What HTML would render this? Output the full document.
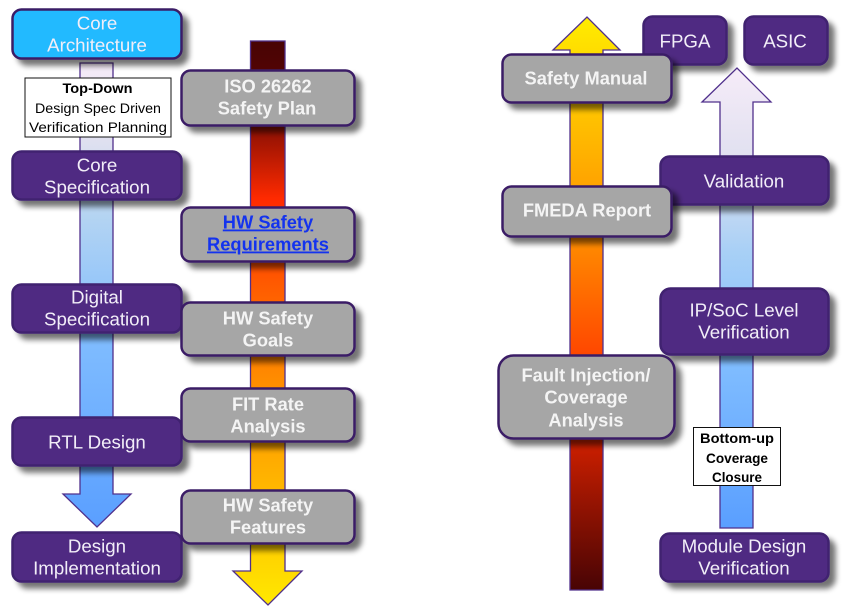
<!DOCTYPE html>
<html>
<head>
<meta charset="utf-8">
<style>
html,body{margin:0;padding:0;background:#fff;width:845px;height:607px;overflow:hidden}
svg{display:block}
text{font-family:"Liberation Sans",sans-serif;text-anchor:middle}
.p{fill:#4f2a82;stroke:#3f2170;stroke-width:2.500}
.c{fill:#21baff;stroke:#3b1f66;stroke-width:2.500}
.g{fill:#a6a6a6;stroke:#3b1f66;stroke-width:2.500}
.tp{font-size:18.700px;fill:#f2eef8;transform:translateY(-0.5px)}
.tg{font-size:18.300px;font-weight:bold;fill:#f4f4f4;transform:translateY(-0.5px)}
.tl{font-size:18.300px;font-weight:bold;fill:#1433ee;text-decoration:underline;transform:translateY(-0.5px)}
.lb{font-size:14px;fill:#000}
.a{stroke:#50308c;stroke-width:1.300}
</style>
</head>
<body>
<svg width="845" height="607" viewBox="0 0 845 607" xmlns="http://www.w3.org/2000/svg">
<defs>
<filter id="s" x="-15%" y="-30%" width="135%" height="170%">
<feGaussianBlur in="SourceAlpha" stdDeviation="3" result="b"/>
<feOffset in="b" dx="6" dy="6" result="o"/>
<feComponentTransfer in="o" result="t"><feFuncA type="linear" slope="0.55"/></feComponentTransfer>
<feMerge><feMergeNode in="t"/><feMergeNode in="SourceGraphic"/></feMerge>
</filter>
<linearGradient id="bd" gradientUnits="userSpaceOnUse" x1="0" y1="63" x2="0" y2="527">
<stop offset="0" stop-color="#f6ecf8"/><stop offset=".17" stop-color="#dfe0f0"/>
<stop offset=".33" stop-color="#b4d4f2"/><stop offset=".6" stop-color="#7fbcff"/>
<stop offset="1" stop-color="#5a9fff"/>
</linearGradient>
<linearGradient id="bu" gradientUnits="userSpaceOnUse" x1="0" y1="68" x2="0" y2="528">
<stop offset="0" stop-color="#f6ecf8"/><stop offset=".2" stop-color="#e0e0f0"/>
<stop offset=".4" stop-color="#a8d0f6"/><stop offset=".65" stop-color="#7fbcff"/>
<stop offset="1" stop-color="#5a9fff"/>
</linearGradient>
<linearGradient id="rd" gradientUnits="userSpaceOnUse" x1="0" y1="41" x2="0" y2="605">
<stop offset="0" stop-color="#480404"/><stop offset=".1" stop-color="#5a0505"/>
<stop offset=".28" stop-color="#ff2a00"/><stop offset=".45" stop-color="#ff6000"/>
<stop offset=".6" stop-color="#ff8c00"/><stop offset=".78" stop-color="#ffb400"/>
<stop offset="1" stop-color="#ffe800"/>
</linearGradient>
<linearGradient id="ru" gradientUnits="userSpaceOnUse" x1="0" y1="17" x2="0" y2="590">
<stop offset="0" stop-color="#ffec00"/><stop offset=".2" stop-color="#ffbb00"/>
<stop offset=".4" stop-color="#ff8800"/><stop offset=".58" stop-color="#ff4a00"/>
<stop offset=".75" stop-color="#c81e00"/><stop offset="1" stop-color="#480404"/>
</linearGradient>
</defs>

<!-- arrows -->
<path class="a" fill="url(#bd)" d="M80 63H113V494H131L97 527L63 494H80Z"/>
<path class="a" fill="url(#rd)" d="M250.500 41H285V571H302L268 605L233 571H250.500Z"/>
<path class="a" fill="url(#ru)" d="M570 590H603V50H620L587 17L553 50H570Z"/>
<path class="a" fill="url(#bu)" d="M720 528H753V102H771L737 68L702 102H720Z"/>

<!-- left column -->
<g filter="url(#s)"><rect class="c" x="12.500" y="9.500" width="169" height="49" rx="9"/></g>
<text class="tp" x="97" y="30">Core</text><text class="tp" x="97" y="52">Architecture</text>

<g filter="url(#s)"><rect class="p" x="12.500" y="151.500" width="169" height="48" rx="9"/></g>
<text class="tp" x="97" y="172">Core</text><text class="tp" x="97" y="194">Specification</text>

<g filter="url(#s)"><rect class="p" x="12.500" y="284.500" width="169" height="48" rx="9"/></g>
<text class="tp" x="97" y="304">Digital</text><text class="tp" x="97" y="326">Specification</text>

<g filter="url(#s)"><rect class="p" x="12.500" y="417.500" width="169" height="48" rx="9"/></g>
<text class="tp" x="97" y="449">RTL Design</text>

<g filter="url(#s)"><rect class="p" x="12.500" y="532.500" width="169" height="49" rx="9"/></g>
<text class="tp" x="97" y="553">Design</text><text class="tp" x="97" y="575">Implementation</text>

<!-- top-down label -->
<rect x="25" y="78" width="146" height="59" fill="#fff" stroke="#111" stroke-width="1"/>
<text class="lb" x="97.500" y="93" font-weight="bold" textLength="70" lengthAdjust="spacingAndGlyphs">Top-Down</text>
<text class="lb" x="98" y="113" textLength="126" lengthAdjust="spacingAndGlyphs">Design Spec Driven</text>
<text class="lb" x="98" y="132" textLength="138" lengthAdjust="spacingAndGlyphs">Verification Planning</text>

<!-- second column -->
<g filter="url(#s)"><rect class="g" x="181.500" y="70.500" width="173" height="55" rx="9"/></g>
<text class="tg" x="268" y="93">ISO 26262</text><text class="tg" x="267" y="115">Safety Plan</text>

<g filter="url(#s)"><rect class="g" x="181.500" y="207.500" width="173" height="54" rx="9"/></g>
<text class="tl" x="268" y="229">HW Safety</text><text class="tl" x="268" y="251">Requirements</text>

<g filter="url(#s)"><rect class="g" x="181.500" y="302.500" width="173" height="53" rx="9"/></g>
<text class="tg" x="268" y="325">HW Safety</text><text class="tg" x="268" y="347">Goals</text>

<g filter="url(#s)"><rect class="g" x="181.500" y="388.500" width="173" height="53" rx="9"/></g>
<text class="tg" x="268" y="411">FIT Rate</text><text class="tg" x="268" y="433">Analysis</text>

<g filter="url(#s)"><rect class="g" x="181.500" y="490.500" width="173" height="53" rx="9"/></g>
<text class="tg" x="268" y="512">HW Safety</text><text class="tg" x="268" y="534">Features</text>

<!-- right purple -->
<g filter="url(#s)"><rect class="p" x="643.500" y="16.500" width="83" height="48" rx="9"/></g>
<text class="tp" x="685" y="48">FPGA</text>
<g filter="url(#s)"><rect class="p" x="744.500" y="16.500" width="83" height="48" rx="9"/></g>
<text class="tp" x="785" y="48">ASIC</text>

<g filter="url(#s)"><rect class="p" x="660.500" y="156.500" width="168" height="48" rx="9"/></g>
<text class="tp" x="744" y="188">Validation</text>

<g filter="url(#s)"><rect class="p" x="660.500" y="288.500" width="168" height="66" rx="10"/></g>
<text class="tp" x="744" y="317">IP/SoC Level</text><text class="tp" x="744" y="339">Verification</text>

<g filter="url(#s)"><rect class="p" x="660.500" y="533.500" width="168" height="48" rx="9"/></g>
<text class="tp" x="744" y="553">Module Design</text><text class="tp" x="744" y="575">Verification</text>

<!-- right gray -->
<g filter="url(#s)"><rect class="g" x="502.500" y="54.500" width="169" height="48" rx="9"/></g>
<text class="tg" x="586" y="85">Safety Manual</text>

<g filter="url(#s)"><rect class="g" x="502.500" y="186.500" width="169" height="50" rx="9"/></g>
<text class="tg" x="587" y="217">FMEDA Report</text>

<g filter="url(#s)"><rect class="g" x="498.500" y="355.500" width="176" height="83" rx="15"/></g>
<text class="tg" x="586" y="382">Fault Injection/</text><text class="tg" x="586" y="404">Coverage</text><text class="tg" x="586" y="427">Analysis</text>

<!-- bottom-up label -->
<rect x="693.500" y="427.500" width="87" height="58" fill="#fff" stroke="#111" stroke-width="1"/>
<text class="lb" x="737" y="443" font-weight="bold" textLength="74" lengthAdjust="spacingAndGlyphs">Bottom-up</text>
<text class="lb" x="737" y="463" font-weight="bold" textLength="62" lengthAdjust="spacingAndGlyphs">Coverage</text>
<text class="lb" x="737" y="482" font-weight="bold" textLength="50" lengthAdjust="spacingAndGlyphs">Closure</text>
</svg>
</body>
</html>
